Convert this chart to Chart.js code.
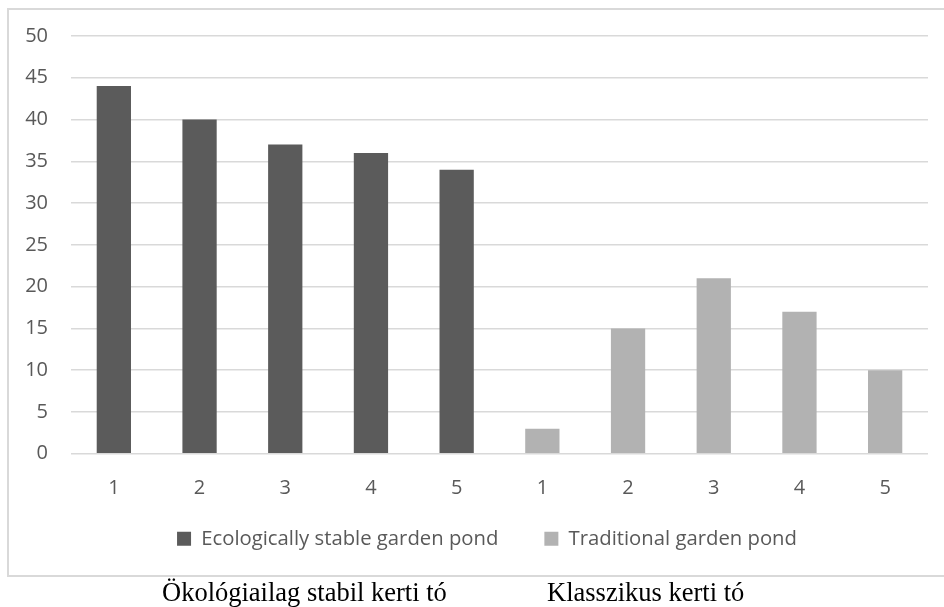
<!DOCTYPE html>
<html>
<head>
<meta charset="utf-8">
<script src="https://cdn.jsdelivr.net/npm/chart.js@4"></script>
<style>
  body { margin: 0; width: 944px; height: 607px; overflow: hidden; background: #fff; position: relative; }
  #frame { position: absolute; left: 7px; top: 8px; width: 950px; height: 565px; border: 2px solid #d9d9d9; }
  #wrap { position: absolute; left: 0; top: 0; width: 944px; height: 607px; }
  .cap { position: absolute; top: 579px; font-family: "Liberation Serif", serif; font-size: 26.5px; line-height: 1; color: #000; white-space: nowrap; }
</style>
</head>
<body>
<div id="frame"></div>
<div id="wrap"><canvas id="chart" width="944" height="607"></canvas></div>
<div class="cap" style="left:162px">Ökológiailag stabil kerti tó</div>
<div class="cap" style="left:547px">Klasszikus kerti tó</div>
<script>
// data
const categories = ["1", "2", "3", "4", "5", "1", "2", "3", "4", "5"];
const ecoValues = [44, 40, 37, 36, 34, null, null, null, null, null];
const tradValues = [null, null, null, null, null, 3, 15, 21, 17, 10];
const yTicks = [0, 5, 10, 15, 20, 25, 30, 35, 40, 45, 50];

const tickFont = { family: "'Open Sans', sans-serif", size: 20 };
const legendFont = { family: "'Open Sans', sans-serif", size: 20.3 };

// move the legend to where the original one sits
const legendShift = {
  id: "legendShift",
  afterLayout(chart) {
    const lg = chart.legend;
    if (!lg) return;
    lg.left += 23;
    lg.right += 23;
    lg.top -= 33;
    lg.bottom -= 33;
  },
};

new Chart(document.getElementById("chart"), {
  type: "bar",
  data: {
    labels: categories,
    datasets: [
      { label: "Ecologically stable garden pond", data: ecoValues, backgroundColor: "#5b5b5b" },
      { label: "Traditional garden pond", data: tradValues, backgroundColor: "#b2b2b2" },
    ],
  },
  options: {
    responsive: false,
    animation: false,
    grouped: false,
    barPercentage: 0.4,
    categoryPercentage: 1,
    layout: { padding: { top: 36, bottom: 15, left: 0, right: 16 } },
    plugins: {
      tooltip: { enabled: false },
      legend: {
        position: "bottom",
        labels: { boxWidth: 14, boxHeight: 14, padding: 46, color: "#595959", font: legendFont },
      },
    },
    scales: {
      x: {
        grid: { display: false },
        border: { display: false },
        ticks: { color: "#595959", font: tickFont, padding: 15 },
      },
      y: {
        min: 0,
        max: 50,
        afterBuildTicks: (s) => { s.ticks = yTicks.map((v) => ({ value: v })); },
        grid: { color: "#d9d9d9", lineWidth: 1.5, drawTicks: false },
        border: { display: false },
        ticks: { color: "#595959", font: tickFont, padding: 23 },
        afterFit: (s) => { s.width = 71; },
      },
    },
  },
  plugins: [legendShift],
});
</script>
</body>
</html>
